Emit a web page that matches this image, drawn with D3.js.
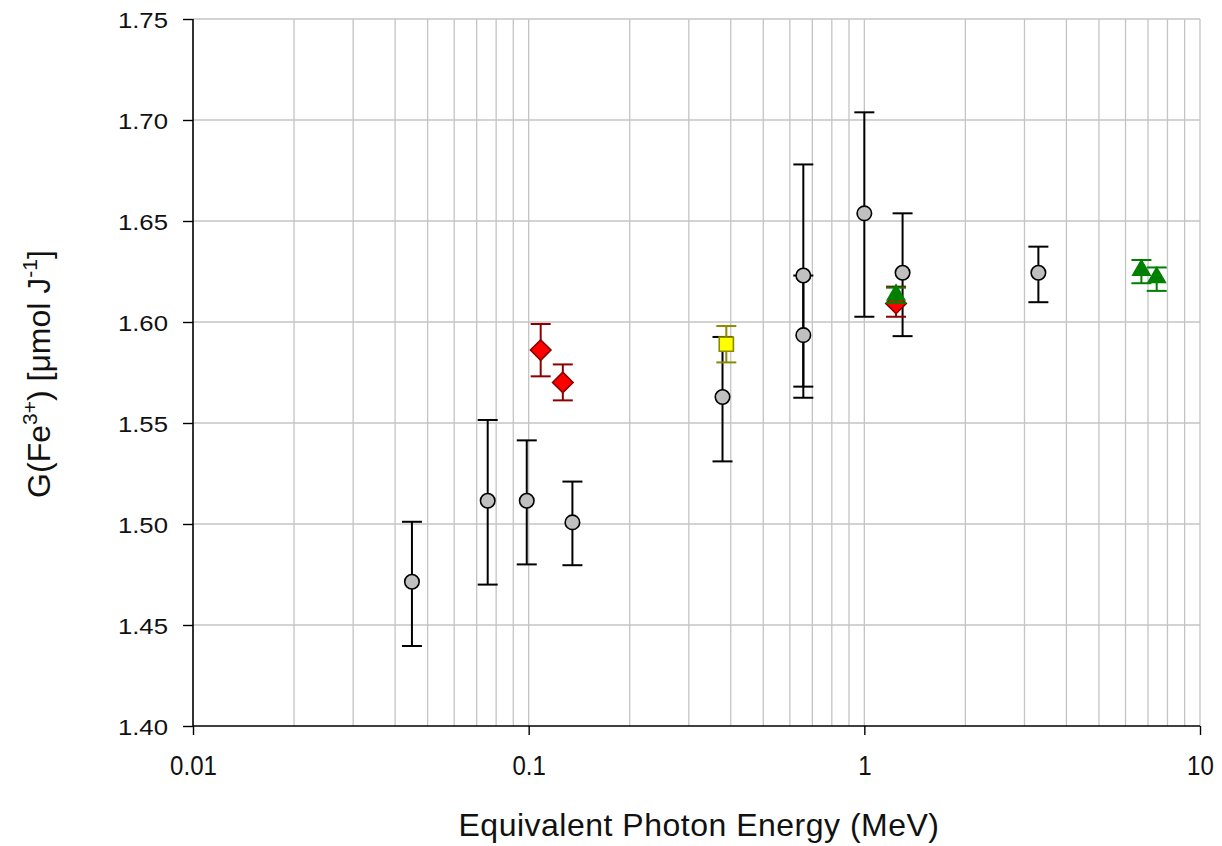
<!DOCTYPE html>
<html><head><meta charset="utf-8">
<script src="https://cdn.jsdelivr.net/npm/d3@7"></script>
<style>
html,body{margin:0;padding:0;background:#fff;}
svg{display:block;font-family:"Liberation Sans",Arial,sans-serif;}
</style></head>
<body>
<svg id="chart" width="1222" height="846"></svg>
<script>
// Grey circles
const greyE    = [0.0449, 0.0755, 0.0987, 0.135, 0.378, 0.658, 0.658, 1.0, 1.30, 3.30];
const greyG    = [1.4714, 1.5115, 1.5115, 1.5008, 1.5629, 1.623, 1.5935, 1.6538, 1.6244, 1.6244];
const greyLo   = [1.4396, 1.470, 1.480, 1.4796, 1.531, 1.568, 1.5625, 1.6026, 1.593, 1.6098];
const greyHi   = [1.5011, 1.5515, 1.5414, 1.521, 1.5926, 1.678, 1.623, 1.7038, 1.6538, 1.6373];
// Red diamonds
const redE  = [0.1086, 0.1264, 1.243];
const redG  = [1.5861, 1.5701, 1.6092];
const redLo = [1.5731, 1.5612, 1.6026];
const redHi = [1.599, 1.579, 1.6175];
// Yellow square
const yelE  = [0.388];
const yelG  = [1.589];
const yelLo = [1.580];
const yelHi = [1.598];
// Green triangles
const grnE  = [1.243, 6.69, 7.43];
const grnG  = [1.6134, 1.6257, 1.622];
const grnLo = [1.6095, 1.6192, 1.6154];
const grnHi = [1.6170, 1.6307, 1.627];

const yTicks = [1.40, 1.45, 1.50, 1.55, 1.60, 1.65, 1.70, 1.75];
const xTicks = [0.01, 0.1, 1, 10];

const svg = d3.select("#chart");
const L = 193, R = 1200, T = 19, B = 726;
const x = d3.scaleLog().domain([0.01, 10]).range([L, R]);
const y = d3.scaleLinear().domain([1.40, 1.75]).range([B, T]);

const grid = svg.append("g");
const minor = [];
for (let d = 0.01; d < 10; d *= 10) for (let k = 1; k <= 10; k++) minor.push(+(d * k).toPrecision(3));
grid.selectAll("line.vx").data(Array.from(new Set(minor)).filter(v => v > 0.01)).join("line")
  .attr("x1", d => x(d)).attr("x2", d => x(d)).attr("y1", T).attr("y2", B)
  .attr("stroke", "#c4c4c4").attr("stroke-width", 1.3);
grid.selectAll("line.hy").data(yTicks.filter(v => v > 1.40)).join("line")
  .attr("x1", L).attr("x2", R).attr("y1", d => y(d)).attr("y2", d => y(d))
  .attr("stroke", "#c4c4c4").attr("stroke-width", 1.3);

// axes
const yAxis = svg.append("g").attr("transform", `translate(${L},0)`)
  .call(d3.axisLeft(y).tickValues(yTicks).tickFormat(d3.format(".2f")).tickSize(10));
const xAxis = svg.append("g").attr("transform", `translate(0,${B})`)
  .call(d3.axisBottom(x).tickValues(xTicks).tickFormat(d => String(d)).tickSize(9));
[yAxis, xAxis].forEach(a => {
  a.select(".domain").remove();
  a.selectAll(".tick line").attr("stroke", "#000").attr("stroke-width", 1.4);
  a.selectAll("text").attr("fill", "#111")
    .attr("font-family", "'Liberation Sans', Arial, sans-serif");
});
yAxis.selectAll("text").attr("font-size", 22).attr("x", 0).attr("dy", "0.36em")
  .attr("transform", "translate(-25,1) scale(1.17,1)");
xAxis.selectAll("text").attr("font-size", 28).attr("y", 0).attr("dy", 0)
  .attr("transform", "translate(0,49) scale(0.86,1)");
svg.append("line").attr("x1", L).attr("x2", L).attr("y1", T).attr("y2", B).attr("stroke", "#000").attr("stroke-width", 1.6);
svg.append("line").attr("x1", L).attr("x2", R).attr("y1", B).attr("y2", B).attr("stroke", "#000").attr("stroke-width", 1.6);

// axis titles
svg.append("text").attr("x", 699).attr("y", 836).attr("text-anchor", "middle")
  .attr("font-size", 32).attr("letter-spacing", 0.5).attr("fill", "#111").text("Equivalent Photon Energy (MeV)");
const yt = svg.append("text").attr("transform", `translate(50,374) rotate(-90)`)
  .attr("text-anchor", "middle").attr("font-size", 32).attr("fill", "#111");
yt.append("tspan").text("G(Fe");
yt.append("tspan").attr("dy", -13).attr("font-size", 21).text("3+");
yt.append("tspan").attr("dy", 13).text(") [μmol J");
yt.append("tspan").attr("dy", -13).attr("font-size", 21).text("-1");
yt.append("tspan").attr("dy", 13).text("]");

function series(E, G, Lo, Hi, sym, size, rot, fill, stroke, errColor) {
  const data = E.map((e, i) => ({e, g: G[i], lo: Lo[i], hi: Hi[i]}));
  const g = svg.append("g");
  const eb = g.selectAll("g.eb").data(data).join("g");
  eb.append("line").attr("x1", d => x(d.e)).attr("x2", d => x(d.e))
    .attr("y1", d => y(d.lo)).attr("y2", d => y(d.hi)).attr("stroke", errColor).attr("stroke-width", 2);
  eb.append("line").attr("x1", d => x(d.e) - 10).attr("x2", d => x(d.e) + 10)
    .attr("y1", d => y(d.lo)).attr("y2", d => y(d.lo)).attr("stroke", errColor).attr("stroke-width", 2);
  eb.append("line").attr("x1", d => x(d.e) - 10).attr("x2", d => x(d.e) + 10)
    .attr("y1", d => y(d.hi)).attr("y2", d => y(d.hi)).attr("stroke", errColor).attr("stroke-width", 2);
  g.selectAll("path.m").data(data).join("path")
    .attr("d", d3.symbol().type(sym).size(size))
    .attr("transform", d => `translate(${x(d.e)},${y(d.g)}) rotate(${rot})`)
    .attr("fill", fill).attr("stroke", stroke).attr("stroke-width", 1.6);
  return g;
}
series(greyE, greyG, greyLo, greyHi, d3.symbolCircle, 165, 0, "#c0c0c0", "#000", "#000");
series(redE, redG, redLo, redHi, d3.symbolSquare, 210, 45, "#ff0000", "#8b0000", "#8b0000");
series(yelE, yelG, yelLo, yelHi, d3.symbolSquare, 200, 0, "#ffff00", "#8a8a00", "#8a8a00");
series(grnE, grnG, grnLo, grnHi, d3.symbolTriangle, 130, 0, "#008000", "#008000", "#008000");
</script>
</body></html>
